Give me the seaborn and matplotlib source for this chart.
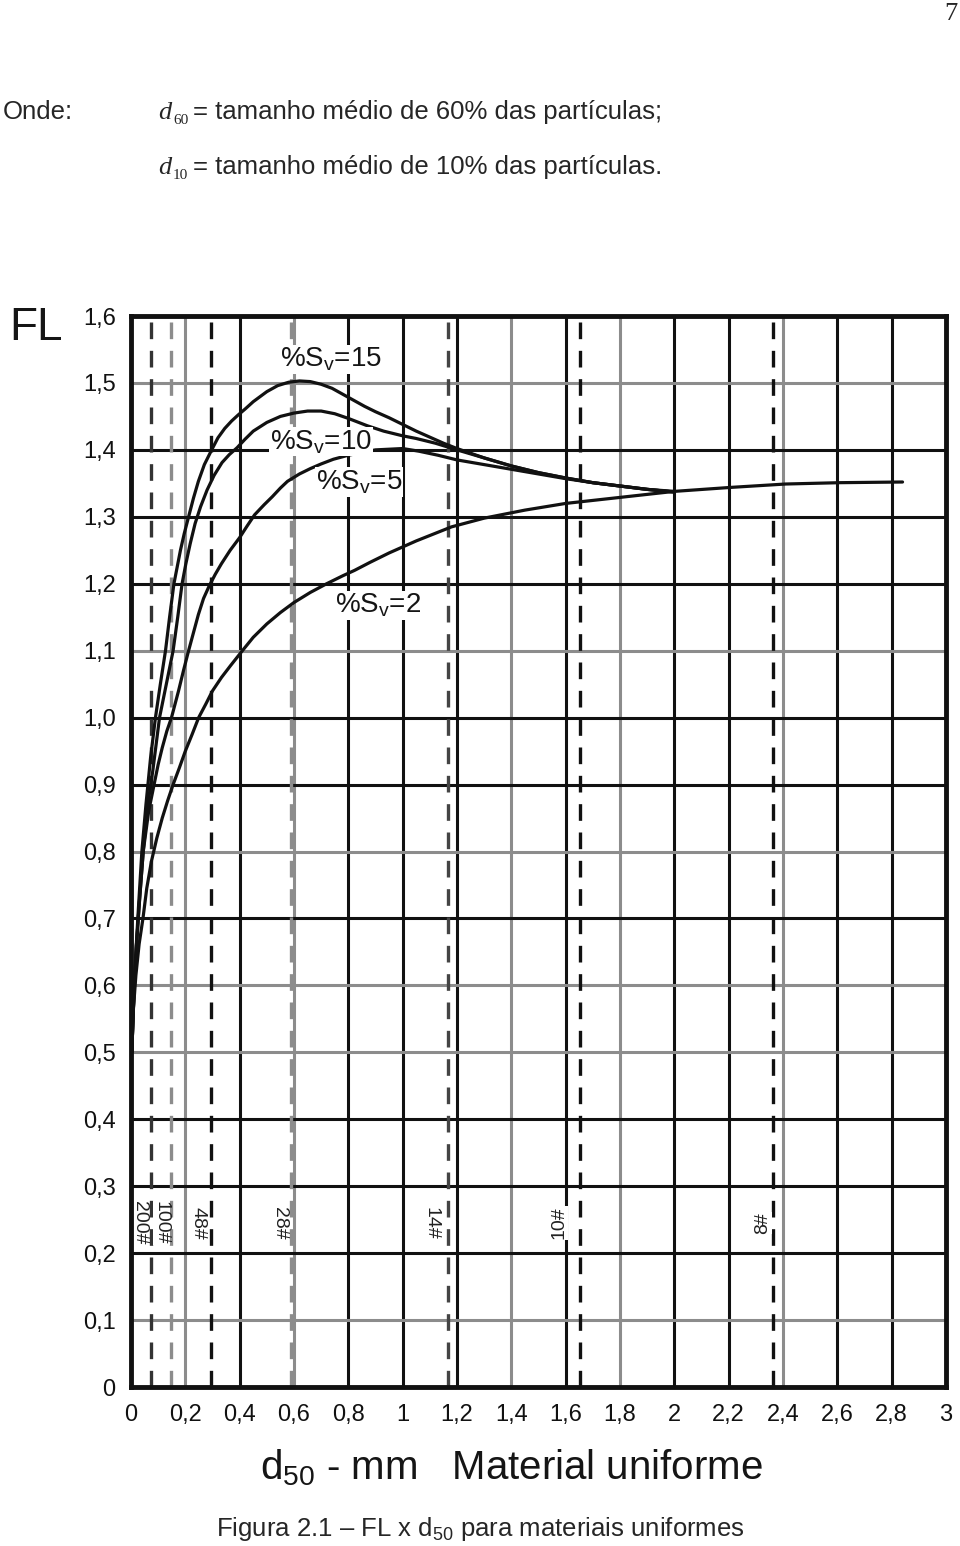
import numpy as np
import pandas as pd
import matplotlib
matplotlib.use("Agg")
import matplotlib.pyplot as plt
import seaborn as sns

# ---------------- data ----------------
x_sv15 = [0.003, 0.010, 0.018, 0.028, 0.040, 0.055, 0.072, 0.090, 0.108, 0.127, 0.142,
          0.158, 0.170, 0.182, 0.196, 0.212, 0.230, 0.248, 0.270, 0.297, 0.320, 0.345,
          0.370, 0.394, 0.420, 0.450, 0.500, 0.540, 0.580, 0.620, 0.660, 0.700, 0.740,
          0.780, 0.820, 0.860, 0.900, 0.950, 1.000, 1.050, 1.100, 1.150, 1.200, 1.300,
          1.400, 1.500, 1.600, 1.700, 1.800, 1.900, 2.000]
y_sv15 = [0.50, 0.58, 0.65, 0.72, 0.80, 0.87, 0.94, 1.00, 1.05, 1.10, 1.15,
          1.20, 1.225, 1.25, 1.275, 1.30, 1.328, 1.353, 1.378, 1.40, 1.418, 1.432,
          1.443, 1.452, 1.461, 1.472, 1.487, 1.496, 1.501, 1.503, 1.502, 1.498, 1.492,
          1.483, 1.474, 1.465, 1.457, 1.448, 1.438, 1.428, 1.419, 1.410, 1.402, 1.388,
          1.376, 1.366, 1.358, 1.351, 1.346, 1.341, 1.337]

x_sv10 = [0.003, 0.010, 0.020, 0.032, 0.045, 0.062, 0.080, 0.105, 0.130, 0.155, 0.172,
          0.188, 0.202, 0.218, 0.236, 0.256, 0.280, 0.306, 0.335, 0.362, 0.390, 0.420,
          0.450, 0.500, 0.550, 0.600, 0.650, 0.700, 0.750, 0.800, 0.870, 0.930, 1.000,
          1.050, 1.120, 1.200, 1.300, 1.400, 1.500, 1.600, 1.700, 1.800, 1.900, 2.000]
y_sv10 = [0.50, 0.58, 0.66, 0.73, 0.80, 0.87, 0.92, 1.00, 1.05, 1.10, 1.15,
          1.20, 1.23, 1.26, 1.29, 1.315, 1.34, 1.362, 1.381, 1.393, 1.403, 1.416,
          1.428, 1.441, 1.450, 1.455, 1.458, 1.458, 1.454, 1.447, 1.436, 1.428, 1.421,
          1.417, 1.410, 1.400, 1.388, 1.376, 1.366, 1.358, 1.351, 1.346, 1.341, 1.337]

x_sv5 = [0.003, 0.010, 0.020, 0.030, 0.045, 0.065, 0.085, 0.100, 0.115, 0.132, 0.149,
         0.162, 0.175, 0.193, 0.212, 0.230, 0.248, 0.267, 0.287, 0.310, 0.333, 0.365,
         0.400, 0.427, 0.455, 0.490, 0.520, 0.550, 0.576, 0.620, 0.660, 0.700, 0.745,
         0.800, 0.850, 0.900, 0.950, 1.000, 1.060, 1.130, 1.200, 1.300, 1.400, 1.500,
         1.600, 1.700, 1.800, 1.900, 2.000]
y_sv5 = [0.50, 0.58, 0.66, 0.72, 0.80, 0.86, 0.90, 0.93, 0.955, 0.98, 1.00,
         1.02, 1.04, 1.07, 1.10, 1.127, 1.154, 1.178, 1.196, 1.214, 1.230, 1.250,
         1.269, 1.286, 1.303, 1.318, 1.330, 1.343, 1.353, 1.364, 1.372, 1.379, 1.386,
         1.392, 1.396, 1.400, 1.401, 1.402, 1.398, 1.392, 1.385, 1.378, 1.371, 1.364,
         1.357, 1.351, 1.346, 1.341, 1.338]

x_sv2 = [0.003, 0.008, 0.018, 0.030, 0.044, 0.058, 0.075, 0.095, 0.115, 0.135, 0.155,
         0.178, 0.200, 0.225, 0.249, 0.275, 0.300, 0.333, 0.367, 0.410, 0.450, 0.500,
         0.550, 0.600, 0.660, 0.720, 0.780, 0.823, 0.880, 0.950, 1.050, 1.180, 1.300,
         1.450, 1.600, 1.800, 2.000, 2.210, 2.410, 2.610, 2.840]
y_sv2 = [0.50, 0.56, 0.615, 0.662, 0.70, 0.745, 0.785, 0.82, 0.85, 0.876, 0.90,
         0.925, 0.95, 0.975, 1.00, 1.02, 1.04, 1.06, 1.078, 1.10, 1.12, 1.14,
         1.157, 1.172, 1.187, 1.200, 1.212, 1.220, 1.232, 1.246, 1.264, 1.285, 1.298,
         1.310, 1.320, 1.329, 1.338, 1.344, 1.349, 1.351, 1.352]

curve_keys = ["15", "10", "5", "2"]
curve_texts = ["%S$_{\\mathregular{v}}$=15", "%S$_{\\mathregular{v}}$=10",
               "%S$_{\\mathregular{v}}$=5", "%S$_{\\mathregular{v}}$=2"]
curve_text_x = [0.735, 0.70, 0.84, 0.91]
curve_text_y = [1.535, 1.412, 1.352, 1.168]

sieve_names = ["200#", "100#", "48#", "28#", "14#", "10#", "8#"]
sieve_mm = [0.074, 0.147, 0.295, 0.589, 1.168, 1.651, 2.362]

x_ticks = [0, 0.2, 0.4, 0.6, 0.8, 1.0, 1.2, 1.4, 1.6, 1.8, 2.0, 2.2, 2.4, 2.6, 2.8, 3.0]
x_ticklabels = ["0", "0,2", "0,4", "0,6", "0,8", "1", "1,2", "1,4", "1,6", "1,8",
                "2", "2,2", "2,4", "2,6", "2,8", "3"]
y_ticks = [0, 0.1, 0.2, 0.3, 0.4, 0.5, 0.6, 0.7, 0.8, 0.9, 1.0, 1.1, 1.2, 1.3, 1.4, 1.5, 1.6]
y_ticklabels = ["0", "0,1", "0,2", "0,3", "0,4", "0,5", "0,6", "0,7", "0,8", "0,9",
                "1,0", "1,1", "1,2", "1,3", "1,4", "1,5", "1,6"]

# ---------------- styling ----------------
sns.set_theme(style="white")
plt.rcParams["font.family"] = ["Liberation Sans", "DejaVu Sans"]
plt.rcParams["mathtext.fontset"] = "custom"
plt.rcParams["mathtext.rm"] = "Liberation Sans"
plt.rcParams["mathtext.it"] = "Liberation Sans:italic"

BLACK = "#111111"
GRAY = "#8c8c8c"
vgrid_colors = [GRAY, BLACK, GRAY, BLACK, BLACK, BLACK, GRAY, BLACK, GRAY, BLACK,
                BLACK, GRAY, BLACK, BLACK]
hgrid_colors = [GRAY, BLACK, BLACK, BLACK, GRAY, GRAY, BLACK, GRAY, BLACK, BLACK,
                GRAY, BLACK, BLACK, BLACK, GRAY]
sieve_colors = ["#333333", GRAY, BLACK, GRAY, "#444444", BLACK, BLACK]
sieve_label_x = [0.030, 0.112, 0.245, 0.545, 1.105, 1.575, 2.325]
sieve_label_rot = [270, 270, 270, 270, 270, 90, 90]

W, H = 960, 1546
fig = plt.figure(figsize=(W / 100, H / 100), dpi=100)
fig.patch.set_facecolor("white")
ax_left, ax_right, ax_top, ax_bottom = 131, 946, 316, 1387
ax = fig.add_axes([ax_left / W, (H - ax_bottom) / H,
                   (ax_right - ax_left) / W, (ax_bottom - ax_top) / H])

ax.set_xlim(0, 3.0)
ax.set_ylim(0, 1.6)

# grid
for xv, c in zip(x_ticks[1:-1], vgrid_colors):
    ax.axvline(xv, color=c, lw=2.2, zorder=1)
for yv, c in zip(y_ticks[1:-1], hgrid_colors):
    ax.axhline(yv, color=c, lw=2.2, zorder=1)

# sieve dashed lines
for xs, c in zip(sieve_mm, sieve_colors):
    ax.axvline(xs, color=c, lw=2.4, ls=(0, (5, 3.5)), zorder=1.5)

# curves
frames = []
for key, xs, ys in zip(curve_keys, [x_sv15, x_sv10, x_sv5, x_sv2],
                       [y_sv15, y_sv10, y_sv5, y_sv2]):
    frames.append(pd.DataFrame({"d50": xs, "FL": ys, "Sv": key}))
df = pd.concat(frames, ignore_index=True)
sns.lineplot(data=df, x="d50", y="FL", hue="Sv", units="Sv", estimator=None,
             sort=False, palette={k: BLACK for k in curve_keys}, linewidth=2.3,
             legend=False, ax=ax, zorder=3)
for ln in ax.get_lines():
    ln.set_solid_joinstyle("round")

# curve labels
for t, tx, ty in zip(curve_texts, curve_text_x, curve_text_y):
    ax.text(tx, ty, t, fontsize=20, ha="center", va="center", color="#151515",
            zorder=4, bbox=dict(facecolor="white", edgecolor="none", pad=0.5))

# sieve labels
for name, lx, rot in zip(sieve_names, sieve_label_x, sieve_label_rot):
    ax.text(lx, 0.245, name, fontsize=14, rotation=rot, ha="center", va="center",
            color="#222222", zorder=4,
            bbox=dict(facecolor="white", edgecolor="none", pad=0.3))

# axes
ax.set_xticks(x_ticks)
ax.set_xticklabels(x_ticklabels)
ax.set_yticks(y_ticks)
ax.set_yticklabels(y_ticklabels)
ax.tick_params(axis="both", length=0, labelsize=17, colors="#111111")
ax.tick_params(axis="x", pad=12)
ax.tick_params(axis="y", pad=11)
ax.grid(False)
for s in ax.spines.values():
    s.set_linewidth(3.5)
    s.set_color(BLACK)
    s.set_zorder(5)
ax.set_ylabel("")
ax.set_xlabel("d$_{\\mathregular{50}}$ - mm   Material uniforme", fontsize=29,
              color="#151515")
ax.xaxis.set_label_coords((511 - ax_left) / (ax_right - ax_left),
                          -(1447 - ax_bottom) / (ax_bottom - ax_top))

# FL label
fig.text(9 / W, 1 - 328 / H, "FL", fontsize=33, ha="left", va="center", color="#151515")

# page header
fig.text(957 / W, 1 - 3 / H, "7", fontsize=19, ha="right", va="top",
         family=["Liberation Serif", "DejaVu Serif"])
base1, base2 = 119, 174
fig.text(3 / W, 1 - base1 / H, "Onde:", fontsize=18.5, ha="left", va="baseline")
for base, sub, rest in [(base1, "60", "= tamanho médio de 60% das partículas;"),
                        (base2, "10", "= tamanho médio de 10% das partículas.")]:
    fig.text(158 / W, 1 - base / H, "d", fontsize=19, style="italic", ha="left",
             va="baseline", family=["Liberation Serif", "DejaVu Serif"])
    fig.text(173 / W, 1 - (base + 5) / H, sub, fontsize=11, ha="left",
             va="baseline", family=["Liberation Serif", "DejaVu Serif"])
    fig.text(193 / W, 1 - base / H, rest, fontsize=18.5, ha="left", va="baseline")

# caption
fig.text(480 / W, 1 - 1536 / H,
         "Figura 2.1 \u2013 FL x d$_{\\mathregular{50}}$ para materiais uniformes",
         fontsize=18.5, ha="center", va="baseline")

fig.savefig("out.png", dpi=100, facecolor="white")
